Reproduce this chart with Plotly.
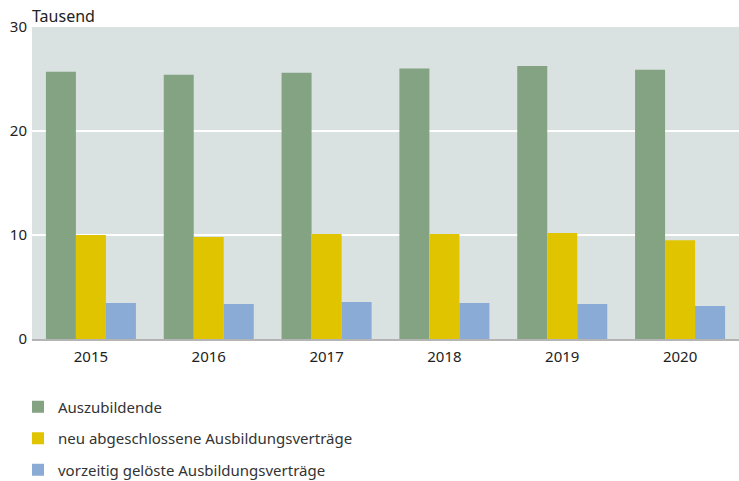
import plotly.graph_objects as go

years = ["2015", "2016", "2017", "2018", "2019", "2020"]
auszubildende = [25.7, 25.4, 25.6, 26.0, 26.25, 25.9]
neu_vertraege = [10.0, 9.8, 10.1, 10.1, 10.2, 9.5]
geloest_vertraege = [3.46, 3.37, 3.56, 3.46, 3.37, 3.17]

series = [
    ("Auszubildende", auszubildende, "#84a383"),
    ("neu abgeschlossene Ausbildungsverträge", neu_vertraege, "#e0c400"),
    ("vorzeitig gelöste Ausbildungsverträge", geloest_vertraege, "#8aabd6"),
]

fig = go.Figure()
for i, (name, vals, col) in enumerate(series):
    fig.add_trace(go.Bar(x=years, y=vals, name=name, marker_color=col,
                         marker_line_width=0, legendgroup=str(i)))

font = "Noto Sans"
fig.update_layout(
    width=739, height=481,
    margin=dict(l=32, r=0, t=27, b=142, autoexpand=False),
    paper_bgcolor="white", plot_bgcolor="#d9e2e1",
    barmode="group", bargap=0.236, bargroupgap=0,
    font=dict(family=font, size=15, color="#333333"),
    showlegend=True,
    legend=dict(orientation="v", x=-14/707, xanchor="left", y=-0.165, yanchor="top",
                font=dict(size=15, color="#333333"), tracegroupgap=9,
                itemwidth=30, borderwidth=0, bgcolor="rgba(0,0,0,0)"),
    xaxis=dict(showgrid=False, showline=True, linecolor="#b4b4b4", linewidth=2,
               ticks="", ticklabelstandoff=3, tickfont=dict(size=15, color="#222222")),
    yaxis=dict(range=[0, 30], tickvals=[0, 10, 20, 30], showgrid=True,
               gridcolor="white", gridwidth=2, zeroline=False, ticks="",
               ticklabelstandoff=4, tickfont=dict(size=15, color="#222222")),
    annotations=[dict(text="Tausend", xref="paper", yref="paper", x=0, y=1,
                      xanchor="left", yanchor="bottom", showarrow=False,
                      xshift=-2, yshift=-2, font=dict(size=16, color="#222222"))],
)

fig.write_html("out.html")
